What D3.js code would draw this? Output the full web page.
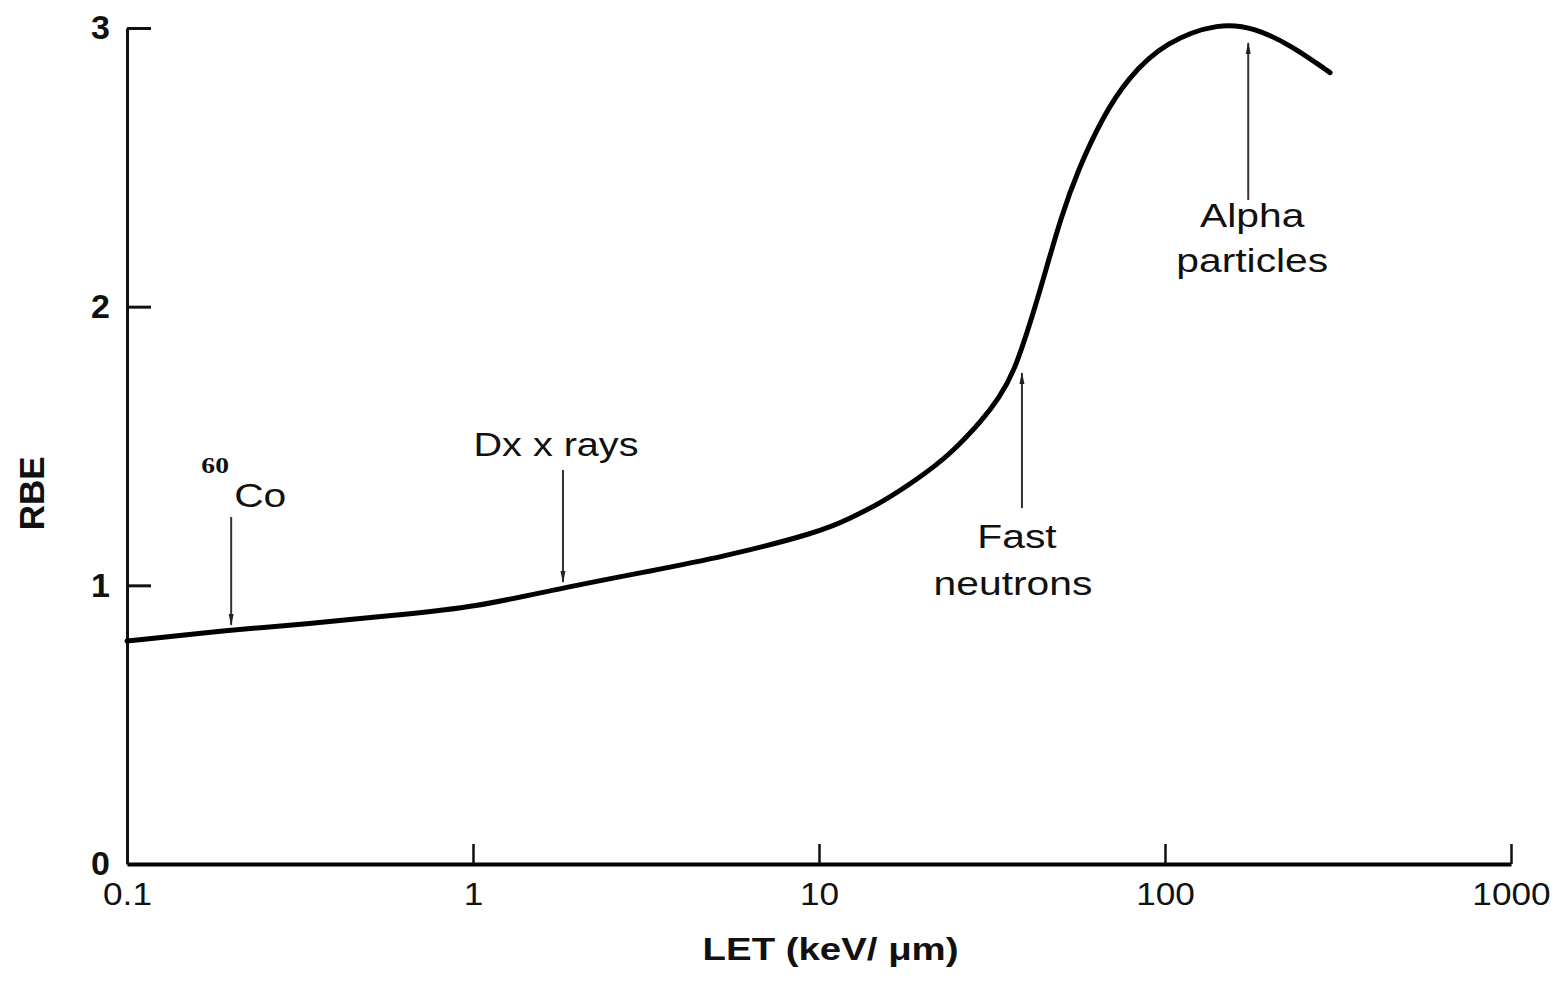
<!DOCTYPE html>
<html>
<head>
<meta charset="utf-8">
<script src="https://cdn.jsdelivr.net/npm/d3@7"></script>
<style>
  body { margin: 0; background: #fff; }
  svg { display: block; }
</style>
</head>
<body>
<script>
// RBE as a function of LET
const letValues = [0.1, 0.2, 0.32, 0.62, 1, 1.8, 3.2, 5.2, 10, 12.3, 15.3, 19.2, 24, 30, 33, 36.5, 41, 45, 50, 56, 66, 78, 100, 144, 182, 230, 300];
const rbeValues = [0.80, 0.84, 0.86, 0.895, 0.92, 0.99, 1.05, 1.10, 1.19, 1.24, 1.30, 1.38, 1.47, 1.60, 1.67, 1.76, 1.95, 2.12, 2.32, 2.49, 2.68, 2.82, 2.95, 3.02, 3.00, 2.94, 2.84];

// axis ticks
const xTicks = [0.1, 1, 10, 100, 1000];
const xTickLabels = ["0.1", "1", "10", "100", "1000"];
const yTicks = [0, 1, 2, 3];

// annotation arrows (LET position, tail and tip in RBE units)
const noteLines = [["Co"], ["Dx x rays"], ["Fast", "neutrons"], ["Alpha", "particles"]];
const noteLet = [0.2, 1.82, 38.6, 174];
const noteTail = [1.245, 1.414, 1.277, 2.383];
const noteTip = [0.858, 1.012, 1.762, 2.946];

const width = 1555, height = 987;
const margin = {top: 28, right: 44, bottom: 123, left: 127};
const font = "'Liberation Sans', Arial, Helvetica, sans-serif";
const stretch = 1.2;

const x = d3.scaleLog()
    .domain([0.1, 1000])
    .range([margin.left, width - margin.right]);

const y = d3.scaleLinear()
    .domain([0, 3])
    .range([height - margin.bottom, margin.top]);

const svg = d3.select("body").append("svg")
    .attr("width", width)
    .attr("height", height)
    .style("background", "#fff");

svg.append("defs").append("marker")
    .attr("id", "head")
    .attr("viewBox", "0 0 12 8")
    .attr("refX", 11)
    .attr("refY", 4)
    .attr("markerWidth", 12)
    .attr("markerHeight", 8)
    .attr("markerUnits", "userSpaceOnUse")
    .attr("orient", "auto")
    .append("path")
    .attr("d", "M0,1.5 L12,4 L0,6.5 Z")
    .attr("fill", "#222");

// x axis
const xAxis = svg.append("g")
    .attr("transform", `translate(0,${y(0)})`)
    .call(d3.axisBottom(x)
        .tickValues(xTicks)
        .tickFormat((d, i) => xTickLabels[i])
        .tickSize(-20)
        .tickSizeOuter(0)
        .tickPadding(18));
xAxis.select(".domain").attr("stroke", "#000").attr("stroke-width", 4);
xAxis.selectAll(".tick line").attr("stroke", "#111").attr("stroke-width", 2.5);
xAxis.selectAll(".tick text")
    .attr("dy", "0.71em")
    .attr("transform", `scale(1.1,1)`)
    .style("font-family", font)
    .style("font-size", "32px")
    .style("fill", "#111");

// y axis
const yAxis = svg.append("g")
    .attr("transform", `translate(${x(0.1)},0)`)
    .call(d3.axisLeft(y)
        .tickValues(yTicks)
        .tickFormat(d3.format("d"))
        .tickSize(-24)
        .tickSizeOuter(0)
        .tickPadding(17));
yAxis.select(".domain").attr("stroke", "#111").attr("stroke-width", 3);
yAxis.selectAll(".tick line").attr("stroke", "#111").attr("stroke-width", 3);
yAxis.selectAll(".tick").filter(d => d === 0).select("line").remove();
yAxis.selectAll(".tick text")
    .style("font-family", font)
    .style("font-size", "34px")
    .style("font-weight", "bold")
    .style("fill", "#111");

// axis titles
svg.append("text")
    .attr("transform", `translate(${x(10.8)},${height - 27}) scale(${stretch},1)`)
    .attr("text-anchor", "middle")
    .style("font-family", font)
    .style("font-size", "32px")
    .style("font-weight", "bold")
    .style("fill", "#111")
    .text("LET (keV/ \u03bcm)");

svg.append("text")
    .attr("transform", `translate(44,${y(1.33)}) rotate(-90)`)
    .attr("text-anchor", "middle")
    .style("font-family", font)
    .style("font-size", "35px")
    .style("font-weight", "bold")
    .style("fill", "#111")
    .text("RBE");

// the curve
const line = d3.line()
    .x((d, i) => x(letValues[i]))
    .y(d => y(d))
    .curve(d3.curveBasis);

svg.append("path")
    .datum(rbeValues)
    .attr("d", line)
    .attr("fill", "none")
    .attr("stroke", "#000")
    .attr("stroke-width", 5)
    .attr("stroke-linecap", "round");

// arrows
svg.append("g")
    .selectAll("line")
    .data(noteLet)
    .join("line")
    .attr("x1", d => x(d))
    .attr("x2", d => x(d))
    .attr("y1", (d, i) => y(noteTail[i]))
    .attr("y2", (d, i) => y(noteTip[i]))
    .attr("stroke", "#333")
    .attr("stroke-width", 2)
    .attr("marker-end", "url(#head)");

// labels next to the arrows (offsets in px from arrow tail)
const labelDx = [[3], [-7], [-5, -9], [4, 4]];
const labelDy = [[-10], [-14], [40, 87], [27, 72]];
const labelAnchor = ["start", "middle", "middle", "middle"];

noteLines.forEach((lines, i) => {
    lines.forEach((txt, j) => {
        svg.append("text")
            .attr("transform", `translate(${x(noteLet[i]) + labelDx[i][j]},${y(noteTail[i]) + labelDy[i][j]}) scale(${stretch},1)`)
            .attr("text-anchor", labelAnchor[i])
            .style("font-family", font)
            .style("font-size", i === 1 ? "33px" : "34px")
            .style("fill", "#111")
            .text(txt);
    });
});

// isotope mass number for cobalt
svg.append("text")
    .attr("transform", `translate(${x(noteLet[0]) - 16},${y(noteTail[0]) - 44}) scale(${stretch},1)`)
    .attr("text-anchor", "middle")
    .style("font-family", "'Liberation Serif', 'Times New Roman', serif")
    .style("font-size", "23px")
    .style("font-weight", "bold")
    .style("fill", "#111")
    .text("60");
</script>
</body>
</html>
